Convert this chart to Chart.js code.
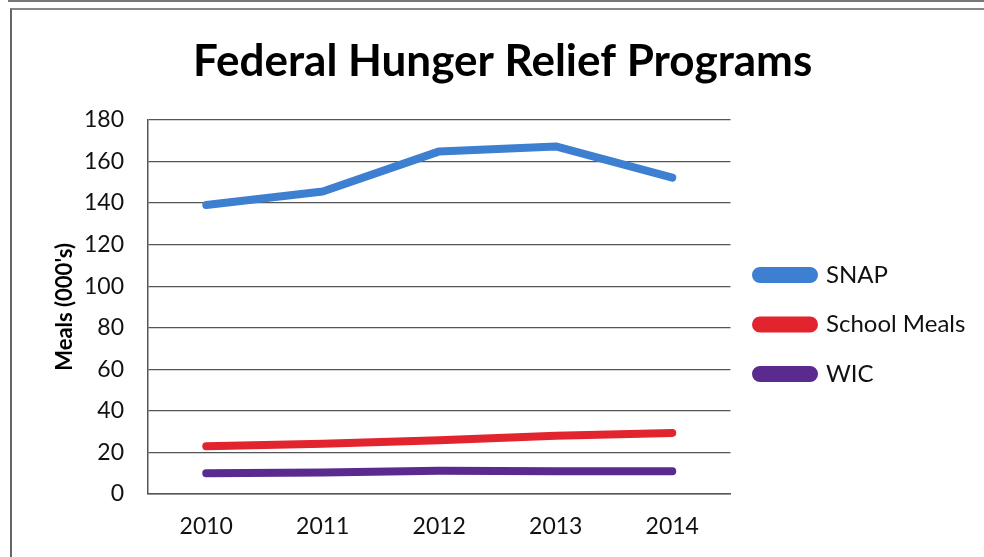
<!DOCTYPE html>
<html>
<head>
<meta charset="utf-8">
<script src="https://cdn.jsdelivr.net/npm/chart.js@4.4.1/dist/chart.umd.min.js"></script>
<style>
  html, body { margin: 0; padding: 0; background: #fff; }
  #wrap { position: relative; width: 984px; height: 557px; overflow: hidden; }
  #topline { position: absolute; left: 8px; top: 0; width: 976px; height: 2px; background: #777; }
  #frame { position: absolute; left: 10px; top: 8px; width: 990px; height: 600px; border-left: 2px solid #666; border-top: 2px solid #888; }
  canvas { position: absolute; left: 0; top: 0; }
</style>
</head>
<body>
<div id="wrap">
  <div id="topline"></div>
  <div id="frame"></div>
  <canvas id="c" width="984" height="557"></canvas>
</div>
<script>
const categories = ['2010', '2011', '2012', '2013', '2014'];
const snap = [139, 145.5, 164.8, 167.2, 152.2];
const schoolMeals = [23, 24.2, 25.8, 28, 29.4];
const wic = [10, 10.4, 11.2, 10.9, 10.9];
const yTicks = [0, 20, 40, 60, 80, 100, 120, 140, 160, 180];

const FONT = 'Lato, "Open Sans", sans-serif';

const ds = (label, data, color) => ({
  label, data,
  borderColor: color, backgroundColor: color,
  borderWidth: 8, pointRadius: 0, tension: 0,
  borderCapStyle: 'round', borderJoinStyle: 'round', fill: false
});

new Chart(document.getElementById('c'), {
  type: 'line',
  data: {
    labels: categories,
    datasets: [
      ds('SNAP', snap, '#3d7fd1'),
      ds('School Meals', schoolMeals, '#e1242d'),
      ds('WIC', wic, '#5b2a8e')
    ]
  },
  options: {
    responsive: false,
    animation: false,
    layout: { padding: { left: 30, right: 8.6, top: 0, bottom: 0 } },
    plugins: {
      title: {
        display: true,
        text: 'Federal Hunger Relief Programs',
        color: '#000',
        font: { family: FONT, size: 44, weight: 'bold' },
        padding: { top: 35, bottom: 32 }
      },
      legend: {
        position: 'right',
        maxWidth: 400,
        title: { display: true, text: ' ', font: { family: FONT, size: 10 }, padding: { top: 0, bottom: 80 } },
        labels: {
          color: '#111',
          font: { family: FONT, size: 24 },
          boxWidth: 58, boxHeight: 8,
          padding: 25.5,
          useBorderRadius: true, borderRadius: 4
        }
      },
      tooltip: { enabled: false }
    },
    scales: {
      x: {
        type: 'category',
        offset: true,
        afterFit: (s) => { s.height = 63; },
        grid: { display: false, drawTicks: false },
        border: { display: true, color: '#555', width: 1.5 },
        ticks: { color: '#111', font: { family: FONT, size: 23 }, padding: 19 }
      },
      y: {
        min: 0, max: 180,
        afterBuildTicks: (axis) => { axis.ticks = yTicks.map(v => ({ value: v })); },
        afterFit: (s) => { s.width = 118; },
        grid: { color: '#555', lineWidth: 1.2, drawTicks: false },
        border: { display: true, color: '#555', width: 1.5 },
        ticks: { color: '#111', font: { family: FONT, size: 23 }, padding: 24 },
        title: {
          display: true, text: "Meals (000's)", color: '#000',
          font: { family: FONT, size: 22, weight: 'bold' },
          padding: { top: 22, bottom: 5 }
        }
      }
    }
  }
});
</script>
</body>
</html>
